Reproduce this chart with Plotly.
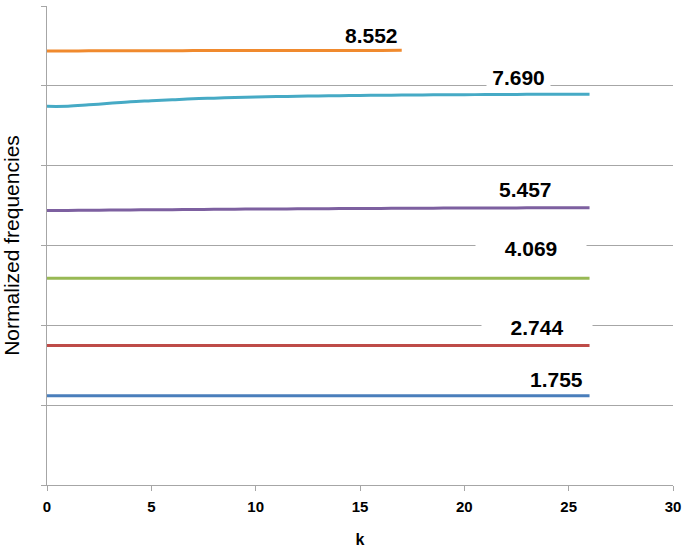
import math
import plotly.graph_objects as go

# ---- data ----
k_full = [0, 1, 2, 3, 4, 5, 6, 7, 8, 9, 10, 11, 12, 13, 14, 15, 16, 17, 18, 19, 20, 21, 22, 23, 24, 25, 26]
k_short = [0, 1, 2, 3, 4, 5, 6, 7, 8, 9, 10, 11, 12, 13, 14, 15, 16, 17]

mode1 = [1.755, 1.755, 1.755, 1.755, 1.755, 1.755, 1.755, 1.755, 1.755, 1.755, 1.755, 1.755, 1.755, 1.755,
         1.755, 1.755, 1.755, 1.755, 1.755, 1.755, 1.755, 1.755, 1.755, 1.755, 1.755, 1.755, 1.755]
mode2 = [2.744, 2.744, 2.744, 2.744, 2.744, 2.744, 2.744, 2.744, 2.744, 2.744, 2.744, 2.744, 2.744, 2.744,
         2.744, 2.744, 2.744, 2.744, 2.744, 2.744, 2.744, 2.744, 2.744, 2.744, 2.744, 2.744, 2.744]
mode3 = [4.069, 4.069, 4.069, 4.069, 4.069, 4.069, 4.069, 4.069, 4.069, 4.069, 4.069, 4.069, 4.069, 4.069,
         4.069, 4.069, 4.069, 4.069, 4.069, 4.069, 4.069, 4.069, 4.069, 4.069, 4.069, 4.069, 4.069]
mode4 = [5.400, 5.403, 5.406, 5.409, 5.412, 5.415, 5.418, 5.421, 5.424, 5.427, 5.430, 5.432, 5.434, 5.436,
         5.438, 5.440, 5.442, 5.444, 5.446, 5.448, 5.450, 5.451, 5.452, 5.453, 5.454, 5.456, 5.457]
mode5 = [7.450, 7.452, 7.480, 7.510, 7.540, 7.560, 7.580, 7.600, 7.612, 7.624, 7.634, 7.642, 7.649, 7.655,
         7.660, 7.665, 7.669, 7.672, 7.675, 7.678, 7.680, 7.682, 7.684, 7.686, 7.688, 7.689, 7.690]
mode6 = [8.540, 8.541, 8.542, 8.543, 8.544, 8.545, 8.546, 8.547, 8.547, 8.548, 8.548, 8.549, 8.549, 8.550,
         8.550, 8.551, 8.551, 8.552]

series_x = [k_full, k_full, k_full, k_full, k_full, k_short]
series_y = [mode1, mode2, mode3, mode4, mode5, mode6]
series_labels = ["1.755", "2.744", "4.069", "5.457", "7.690", "8.552"]
colors = ["#4A7EBB", "#BE4B48", "#98B954", "#7D60A0", "#46AAC5", "#F08A2E"]

# label placement (layout only): x in k units, pixel lift above the line end, white box width
label_x = [24.4, 23.5, 23.2, 22.95, 22.6, 15.55]
label_lift = [16, 18.5, 30, 18, 17, 14.5]
label_box = [None, 110, 110, None, 63, None]

fig = go.Figure()
for xs, ys, c in zip(series_x, series_y, colors):
    fig.add_trace(go.Scatter(x=xs, y=ys, mode="lines", line=dict(color=c, width=3, shape="spline"),
                             showlegend=False, hoverinfo="skip"))

for xs, ys, lab, lx, lift, bw in zip(series_x, series_y, series_labels, label_x, label_lift, label_box):
    ann = dict(x=lx, y=ys[-1], xref="x", yref="y", text=lab, showarrow=False, yshift=lift,
               font=dict(family="Liberation Sans", size=21, color="#000000", weight="bold"),
               xanchor="center", yanchor="middle")
    if bw is not None:
        ann.update(bgcolor="#FFFFFF", width=bw, height=22, borderpad=0)
    fig.add_annotation(**ann)

grid_col = "#A6A6A6"
fig.update_layout(
    width=685, height=548,
    margin=dict(l=47, r=12, t=6, b=63, autoexpand=False),
    paper_bgcolor="#FFFFFF", plot_bgcolor="#FFFFFF",
    font=dict(family="Liberation Sans", color="#000000"),
    xaxis=dict(range=[0, 30], tick0=0, dtick=5, showgrid=False, zeroline=False, automargin=False,
               showline=True, linecolor=grid_col, linewidth=1,
               ticks="outside", ticklen=5, tickcolor=grid_col,
               tickfont=dict(size=15, family="Liberation Sans", weight="bold"),
               ticklabelstandoff=3,
               title=dict(text="k", font=dict(size=16, weight="bold"), standoff=20)),
    yaxis=dict(range=[0, 3 * math.pi + 1e-6], tick0=0, dtick=math.pi / 2, showgrid=True, automargin=False,
               gridcolor=grid_col, gridwidth=1, zeroline=False,
               showline=True, linecolor=grid_col, linewidth=1,
               ticks="outside", ticklen=5, tickcolor=grid_col, showticklabels=False,
               title=dict(text="Normalized frequencies", font=dict(size=21), standoff=23)),
)

fig.write_html("out.html", config={"displayModeBar": False},
               post_script="document.body.style.margin='0';document.body.style.padding='0';")
